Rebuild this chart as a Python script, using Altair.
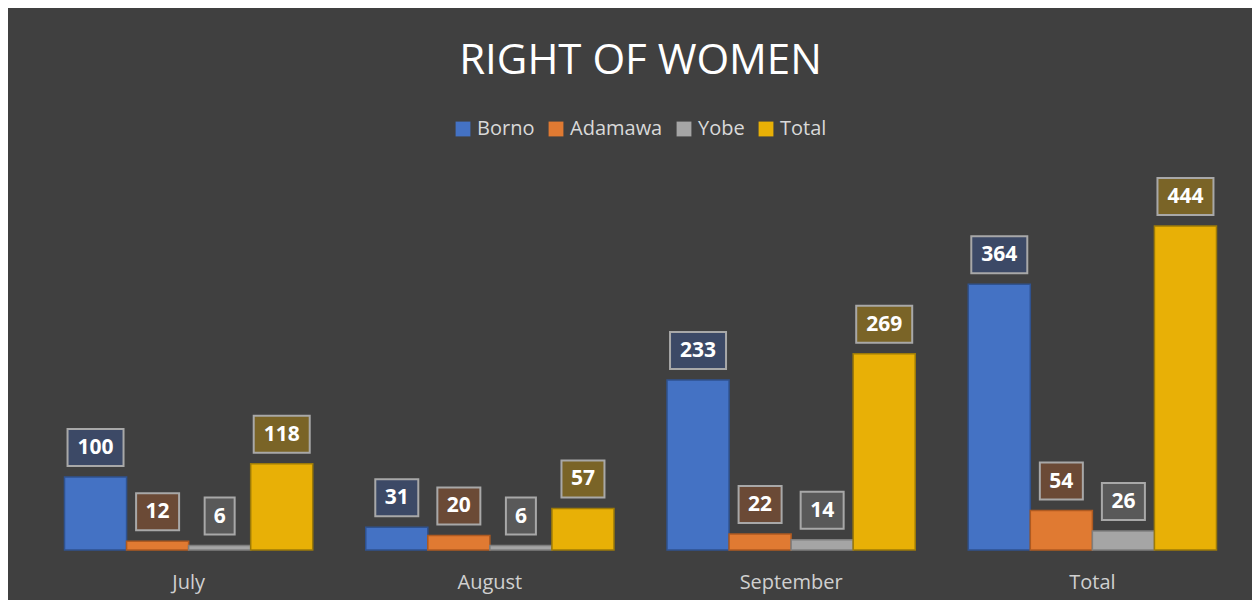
import altair as alt
import pandas as pd

months = ["July", "August", "September", "Total"]
series = ["Borno", "Adamawa", "Yobe", "Total"]
borno = [100, 31, 233, 364]
adamawa = [12, 20, 22, 54]
yobe = [6, 6, 14, 26]
total = [118, 57, 269, 444]

bar_colors = ["#4472C4", "#E07A32", "#A5A5A5", "#E8B006"]
bar_strokes = ["#2F528F", "#AE5A21", "#7F7F7F", "#9C7A08"]
box_fills = ["#3C4966", "#6B4A36", "#595959", "#7A6427"]

rows = []
for s, vals in zip(series, [borno, adamawa, yobe, total]):
    for m, v in zip(months, vals):
        rows.append({"month": m, "series": s, "value": v})
df = pd.DataFrame(rows)

x = alt.X("month:N", sort=months,
          scale=alt.Scale(paddingInner=0.176, paddingOuter=0.088),
          axis=alt.Axis(title=None, labelAngle=0, ticks=False, domain=False,
                        labelPadding=22, labelFontSize=20, labelColor="#D0D0D0",
                        labelFont="Open Sans", grid=False))
xo = alt.XOffset("series:N", sort=series, scale=alt.Scale(paddingInner=0, paddingOuter=0))
yscale = alt.Scale(domain=[0, 500], nice=False)

base = alt.Chart(df).encode(x=x, xOffset=xo)

bars = base.mark_bar(strokeWidth=1.5).encode(
    y=alt.Y("value:Q", scale=yscale, axis=None),
    color=alt.Color("series:N", sort=series,
                    scale=alt.Scale(domain=series, range=bar_colors),
                    legend=alt.Legend(title=None, orient="none", direction="horizontal",
                                      legendX=415, legendY=-66,
                                      symbolType="square", symbolSize=220,
                                      symbolStrokeWidth=1.5,
                                      labelFontSize=20, labelColor="#D9D9D9",
                                      labelFont="Open Sans", columnPadding=11,
                                      symbolOpacity=1)),
    stroke=alt.Stroke("series:N", sort=series,
                      scale=alt.Scale(domain=series, range=bar_strokes), legend=None),
)

def boxes(cond, w):
    return base.transform_filter(cond).mark_bar(
        width=w, yOffset=-48, y2Offset=-11, stroke="#A8A8A8", strokeWidth=2
    ).encode(
        y=alt.Y("value:Q", scale=yscale),
        y2=alt.Y2("value:Q"),
        fill=alt.Fill("series:N", sort=series,
                      scale=alt.Scale(domain=series, range=box_fills), legend=None),
    )

box3 = boxes("datum.value >= 100", 56)
box2 = boxes("datum.value >= 10 && datum.value < 100", 43)
box1 = boxes("datum.value < 10", 30)

labels = base.mark_text(dy=-29, baseline="middle", fontSize=21, fontWeight="bold",
                        color="white", font="Open Sans").encode(
    y=alt.Y("value:Q", scale=yscale),
    text="value:Q",
)

chart = alt.layer(bars, box3, box2, box1, labels).resolve_scale(
    fill="independent", stroke="independent"
).properties(
    width=1205, height=365,
    title=alt.TitleParams("RIGHT OF WOMEN", fontSize=42, font="Open Sans",
                          fontWeight="normal", color="white", anchor="middle",
                          offset=36),
    background="#404040",
    padding={"left": 30, "top": 177, "right": 9, "bottom": 50},
    autosize=alt.AutoSizeParams(type="none"),
).configure_view(stroke=None)

chart.save("out.html", embed_options={"renderer": "svg", "actions": False})
